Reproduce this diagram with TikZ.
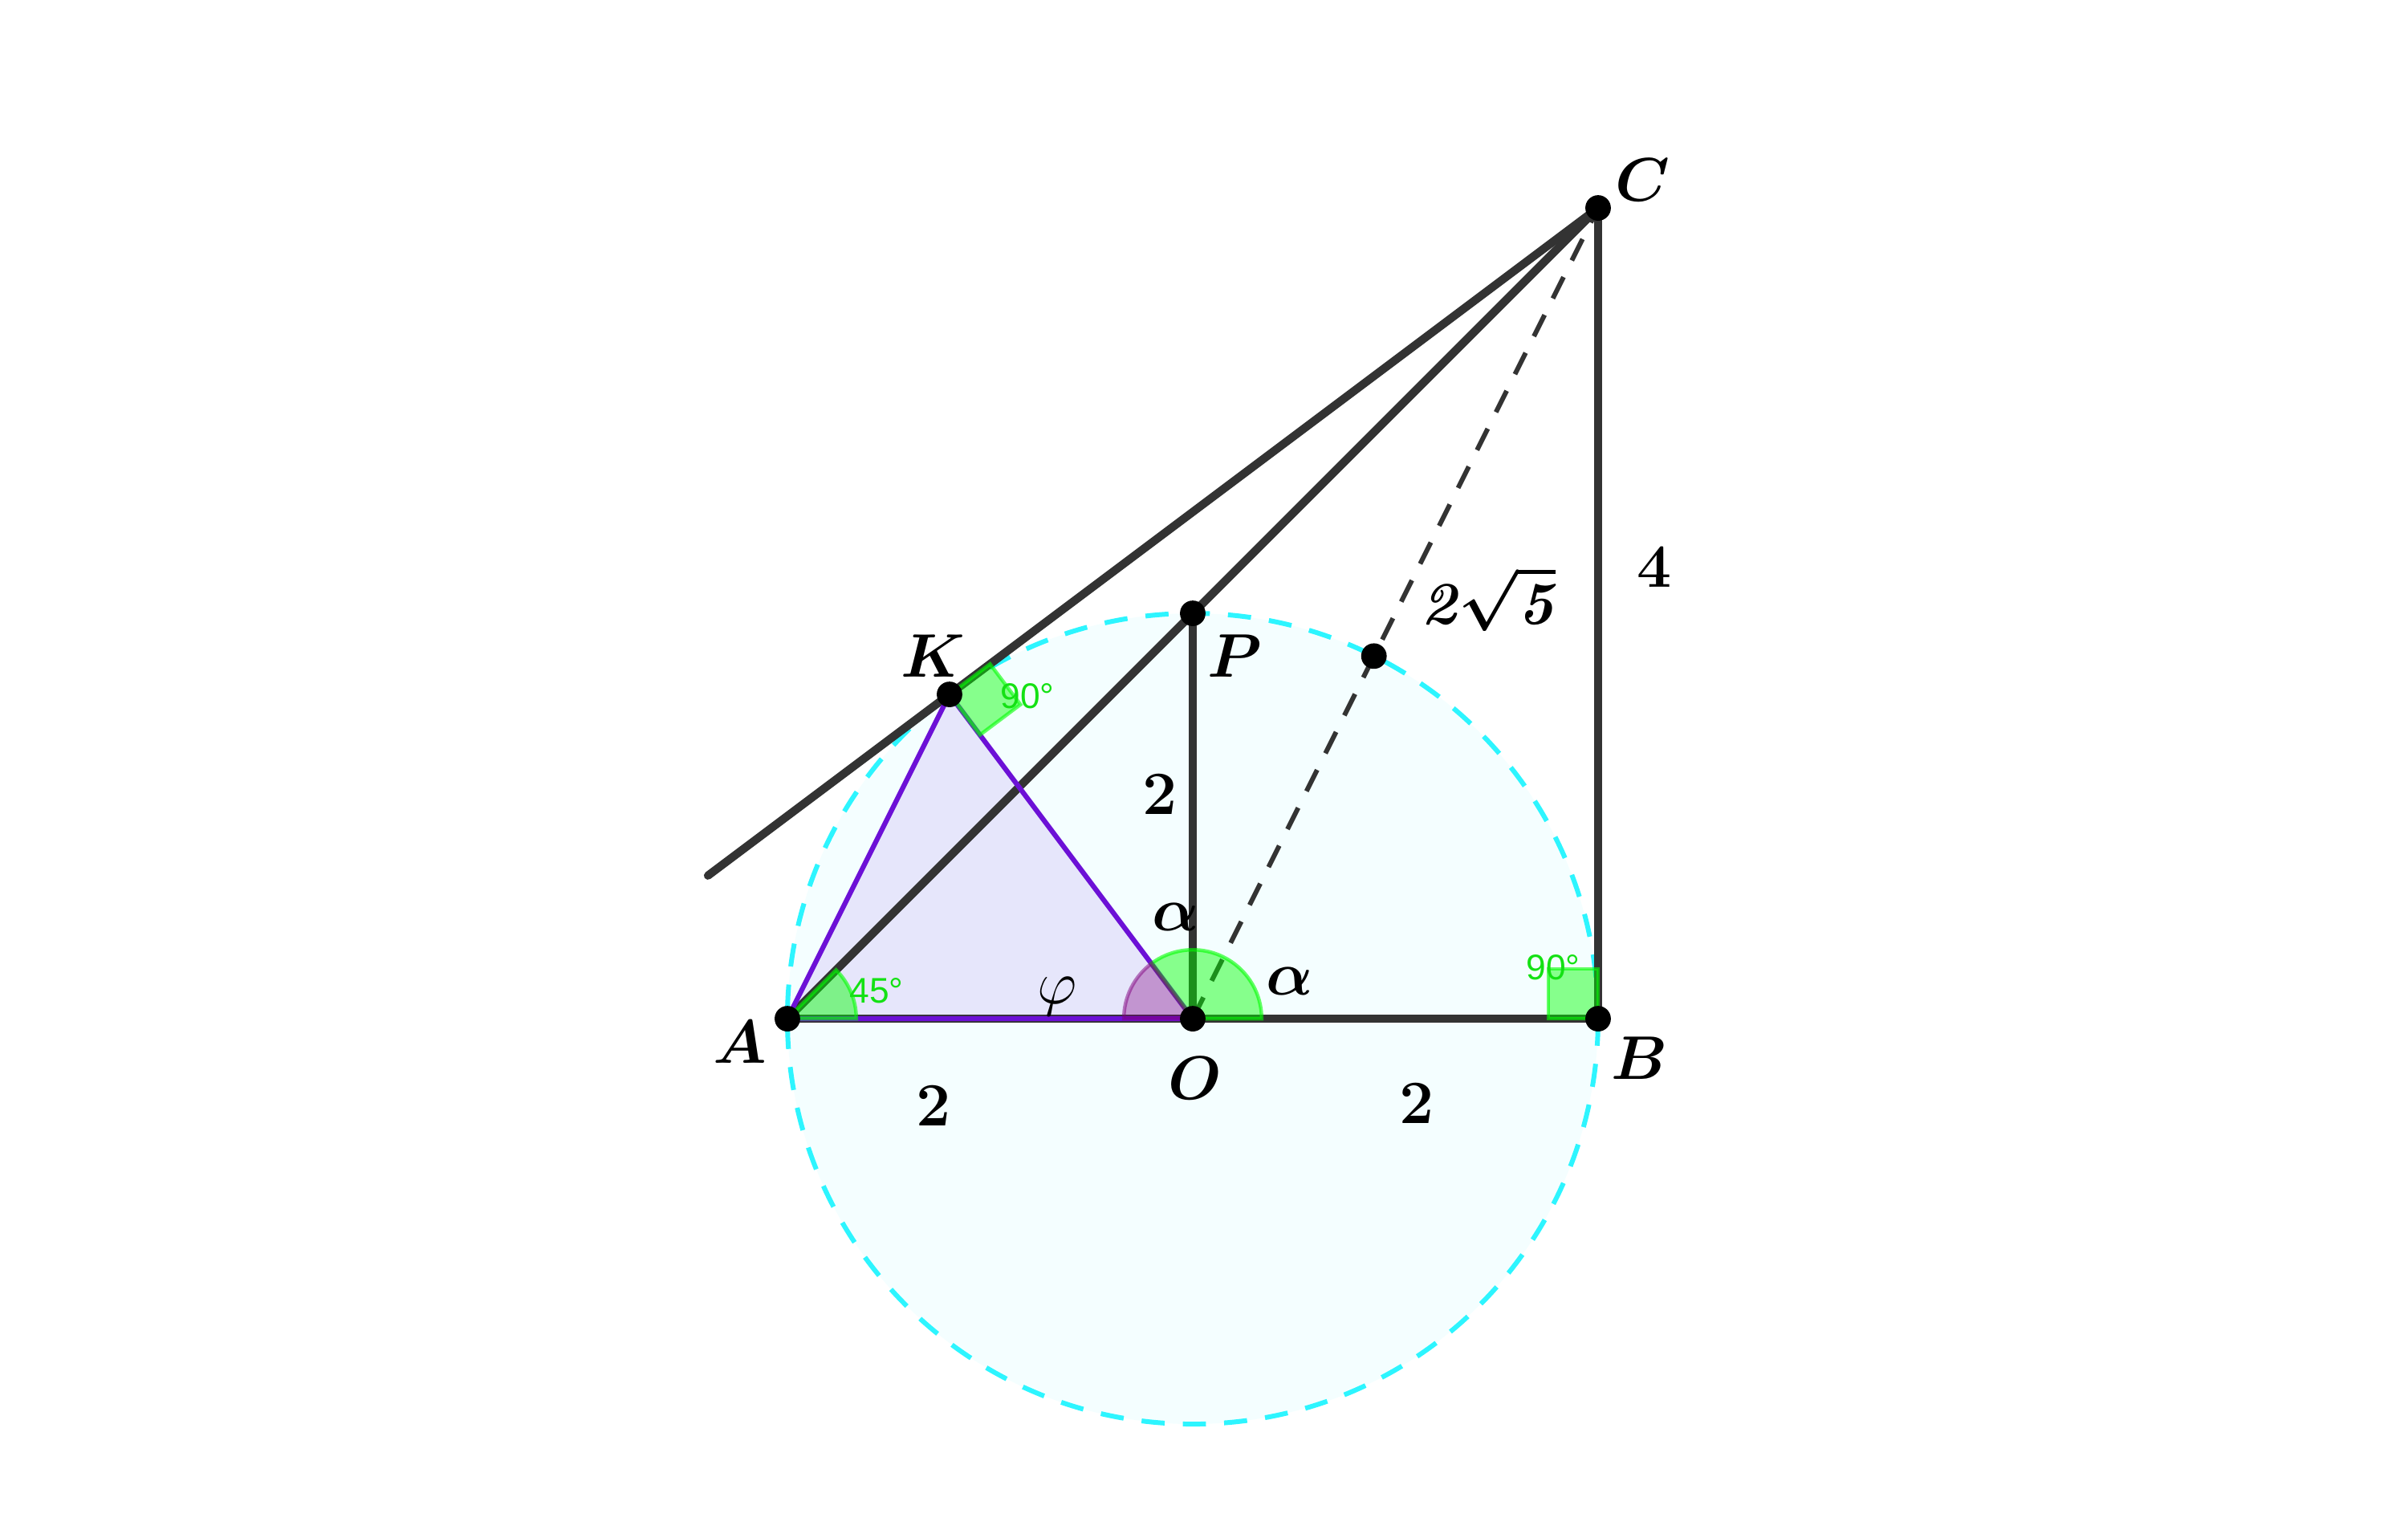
\documentclass[tikz,border=0pt]{standalone}
\usepackage{amsmath}
\usepackage{amssymb}
\usepackage{fontspec}
\newfontfamily\anglefont{Liberation Sans}
\definecolor{linegray}{RGB}{51,51,51}
\definecolor{circcyan}{RGB}{45,245,255}
\definecolor{trivio}{RGB}{108,16,214}
\definecolor{anggreen}{RGB}{0,255,0}
\definecolor{angtext}{RGB}{20,225,20}
\definecolor{angpurple}{RGB}{128,0,128}

\begin{document}
\begin{tikzpicture}[x=2cm,y=2cm]
\tikzstyle{every node}+=[inner sep=0pt]
\tikzstyle{seg}=[linegray, line width=2.3pt, line cap=round]
\tikzstyle{lbl}=[font=\fontsize{17}{20}\selectfont\boldmath]
\tikzstyle{anglbl}=[font=\fontsize{10}{12}\selectfont\anglefont, text=angtext]
\tikzstyle{greenang}=[fill=anggreen, fill opacity=0.45, draw=anggreen, draw opacity=0.6, line width=1pt]
\tikzstyle{purpang}=[fill=angpurple, fill opacity=0.35, draw=angpurple, draw opacity=0.5, line width=1pt]
\useasboundingbox (-5.885,-2.539) rectangle (5.996,5.026);
\coordinate (O) at (0,0);
\coordinate (A) at (-2,0);
\coordinate (B) at (2,0);
\coordinate (C) at (2,4);
\coordinate (P) at (0,2);
\coordinate (K) at (-1.2,1.6);
\coordinate (M) at (0.894,1.789);
\coordinate (E) at (-2.392,0.706);
\fill [circcyan, opacity=0.05] (O) circle (2);
\draw [circcyan, line width=1.35pt, dash pattern=on 6.5pt off 5.1pt] (O) circle (2);
\fill [trivio, fill opacity=0.1] (A) -- (K) -- (O) -- cycle;
\draw [seg] (A) -- (B);
\draw [seg] (A) -- (C);
\draw [seg] (E) -- (C);
\draw [seg] (O) -- (P);
\draw [seg] (B) -- (C);
\draw [linegray, line width=1.35pt, dash pattern=on 6.7pt off 5.2pt] (O) -- (C);
\draw [trivio, line width=1.4pt, line join=round] (A) -- (K) -- (O) -- cycle;
\draw [greenang] (A) -- ++(0.34,0) arc (0:45:0.34) -- cycle;
\draw [greenang] (O) -- ++(0.34,0) arc (0:126.87:0.34) -- cycle;
\draw [purpang] (O) -- ++(126.87:0.34) arc (126.87:180:0.34) -- cycle;
\draw [greenang] (K) -- ++(0.2,0.15) -- ++(0.15,-0.2) -- ++(-0.2,-0.15) -- cycle;
\draw [greenang] (B) -- ++(-0.245,0) -- ++(0,0.245) -- ++(0.245,0) -- cycle;
\fill (A) circle (0.063);
\fill (O) circle (0.063);
\fill (B) circle (0.063);
\fill (C) circle (0.063);
\fill (P) circle (0.063);
\fill (K) circle (0.063);
\fill (M) circle (0.063);
\node [lbl] (lA) at (-2.234,-0.115) {$A$};
\node [lbl] (lO) at (0.012,-0.293) {$O$};
\node [lbl] (lB) at (2.206,-0.194) {$B$};
\node [lbl] (lC) at (2.22,4.14) {$C$};
\node [lbl] (lP) at (0.206,1.79) {$P$};
\node [lbl] (lK) at (-1.283,1.79) {$K$};
\node [lbl] (lAO) at (-1.28,-0.43) {$2$};
\node [lbl] (lOB) at (1.106,-0.42) {$2$};
\node [lbl] (lOP) at (-0.162,1.105) {$2$};
\node [lbl] (lBC) at (2.277,2.226) {$4$};
\node [lbl] (lOC) at (1.46,2.07) {$\textbf{\textit{2}}\sqrt{\textbf{\textit{5}}}$};
\node [lbl] (lal1) at (-0.083,0.503) {$\alpha$};
\node [lbl] (lal2) at (0.479,0.186) {$\alpha$};
\node [font=\fontsize{17}{20}\selectfont] (lphi) at (-0.67,0.11) {$\varphi$};
\node [anglbl] (lA45) at (-1.56,0.14) {45°};
\node [anglbl] (lK90) at (-0.816,1.59) {90°};
\node [anglbl] (lB90) at (1.778,0.253) {90°};
\end{tikzpicture}
\end{document}
